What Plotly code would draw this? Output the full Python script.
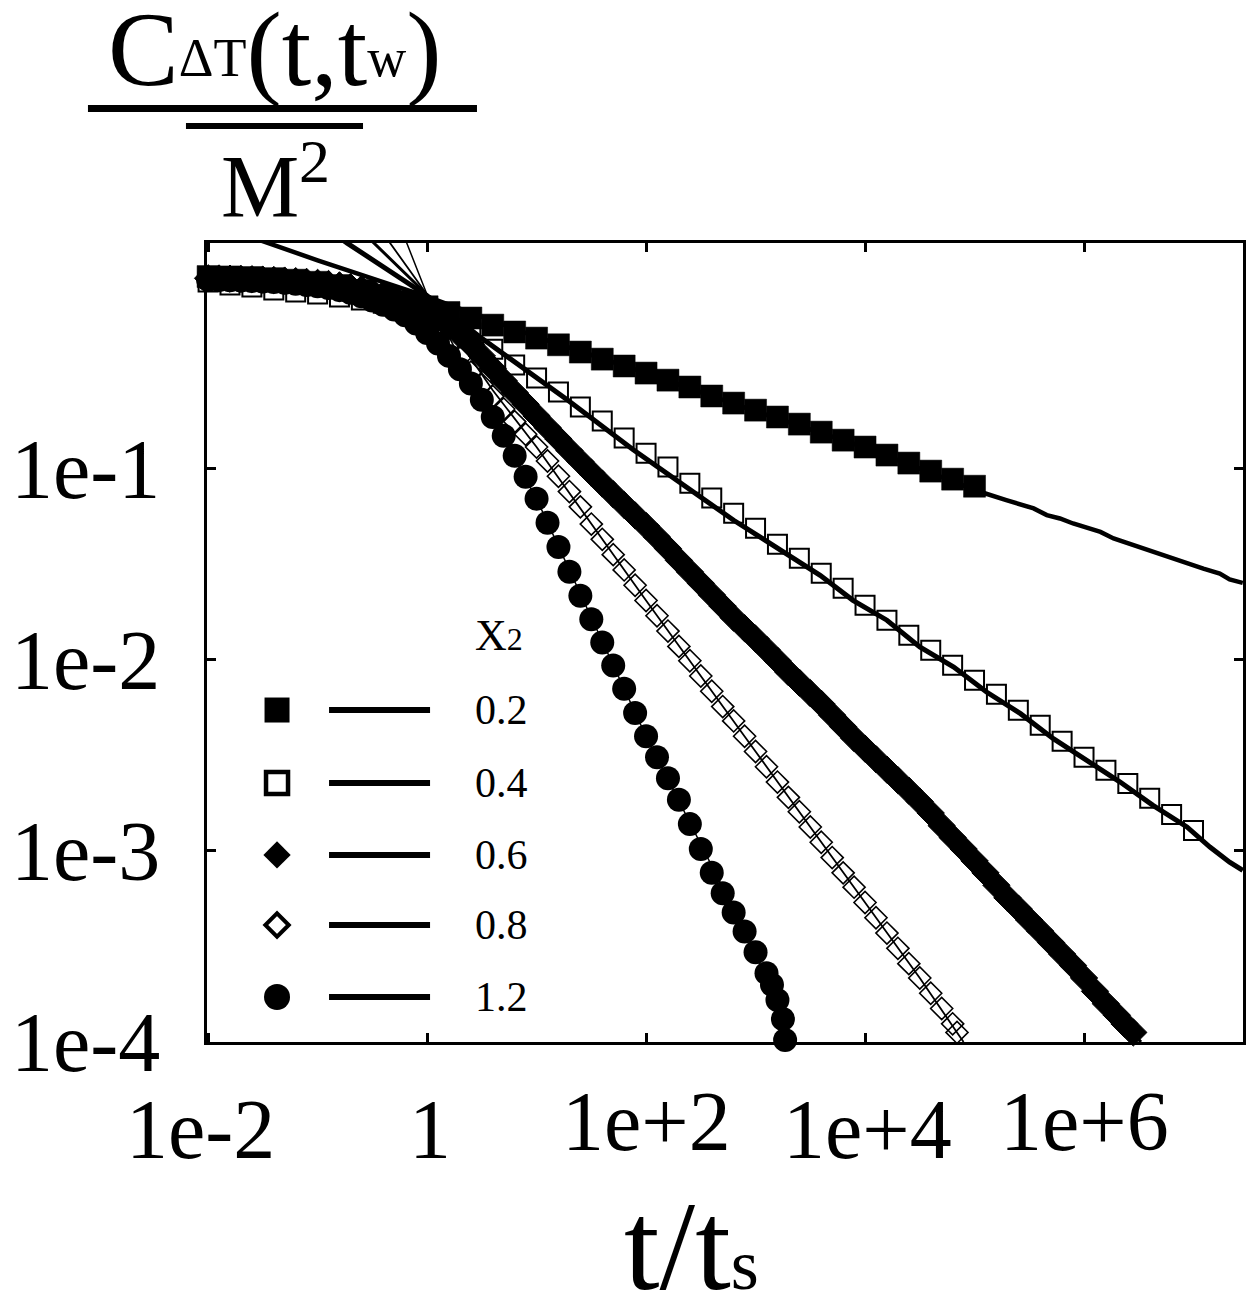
import math
import plotly.graph_objects as go

# ---------------- data (log10 values) ----------------
# sampling grids of t/ts (log10)
LOGT_STEP02 = [-2.0, -1.8, -1.6, -1.4, -1.2, -1.0, -0.8, -0.6, -0.4, -0.2,
               0.0, 0.2, 0.4, 0.6, 0.8, 1.0, 1.2, 1.4, 1.6, 1.8,
               2.0, 2.2, 2.4, 2.6, 2.8, 3.0, 3.2, 3.4, 3.6, 3.8,
               4.0, 4.2, 4.4, 4.6, 4.8, 5.0, 5.2, 5.4, 5.6, 5.8,
               6.0, 6.2, 6.4, 6.6, 6.8, 7.0]
LOGT_STEP01 = [-2.0, -1.9, -1.8, -1.7, -1.6, -1.5, -1.4, -1.3, -1.2, -1.1,
               -1.0, -0.9, -0.8, -0.7, -0.6, -0.5, -0.4, -0.3, -0.2, -0.1,
               0.0, 0.1, 0.2, 0.3, 0.4, 0.5, 0.6, 0.7, 0.8, 0.9,
               1.0, 1.1, 1.2, 1.3, 1.4, 1.5, 1.6, 1.7, 1.8, 1.9,
               2.0, 2.1, 2.2, 2.3, 2.4, 2.5, 2.6, 2.7, 2.8, 2.9,
               3.0, 3.1, 3.2, 3.3, 3.4, 3.5, 3.6, 3.7, 3.8, 3.9,
               4.0, 4.1, 4.2, 4.3, 4.4, 4.5, 4.6, 4.7, 4.8, 4.9,
               5.0, 5.1, 5.2, 5.3, 5.4, 5.5, 5.6, 5.7, 5.8, 5.9,
               6.0, 6.1, 6.2, 6.3]

# x2 = 0.2 : filled squares
LOGT_02 = LOGT_STEP02[:36]
LOGC_02 = [0.005, 0.003, 0.0, -0.006, -0.014, -0.025, -0.042, -0.068, -0.095, -0.124,
           -0.153, -0.183, -0.212, -0.249, -0.285, -0.317, -0.352, -0.390, -0.427, -0.463,
           -0.500, -0.537, -0.573, -0.620, -0.657, -0.694, -0.730, -0.767, -0.809, -0.851,
           -0.887, -0.929, -0.971, -1.013, -1.055, -1.092]

# x2 = 0.4 : open squares
LOGT_04 = LOGT_STEP02
LOGC_04 = [-0.024, -0.039, -0.050, -0.065, -0.076, -0.086, -0.102, -0.117, -0.134, -0.156,
           -0.185, -0.228, -0.290, -0.375, -0.458, -0.526, -0.599, -0.678, -0.751, -0.840,
           -0.919, -0.992, -1.076, -1.154, -1.233, -1.312, -1.395, -1.469, -1.547, -1.626,
           -1.715, -1.793, -1.872, -1.950, -2.029, -2.107, -2.181, -2.264, -2.343, -2.427,
           -2.510, -2.578, -2.647, -2.725, -2.809, -2.893]

# x2 = 0.6 : filled diamonds
LOGT_06 = LOGT_STEP01 + [6.37, 6.45]
LOGC_06 = [-0.004, -0.005, -0.006, -0.007, -0.009, -0.011, -0.013, -0.016, -0.019, -0.023,
           -0.028, -0.034, -0.041, -0.050, -0.061, -0.074, -0.089, -0.107, -0.128, -0.152,
           -0.180, -0.214, -0.255, -0.300, -0.350, -0.410, -0.475, -0.540, -0.602, -0.663,
           -0.724, -0.785, -0.845, -0.905, -0.963, -1.021, -1.078, -1.134, -1.190, -1.245,
           -1.300, -1.358, -1.418, -1.480, -1.540, -1.600, -1.660, -1.720, -1.780, -1.835,
           -1.890, -1.947, -2.005, -2.065, -2.120, -2.175, -2.230, -2.290, -2.350, -2.410,
           -2.465, -2.520, -2.575, -2.630, -2.685, -2.742, -2.802, -2.868, -2.930, -2.990,
           -3.052, -3.115, -3.180, -3.245, -3.302, -3.362, -3.420, -3.480, -3.540, -3.600,
           -3.665, -3.735, -3.800, -3.860, -3.905, -3.950]

# x2 = 0.8 : open diamonds
LOGT_08 = LOGT_STEP01[:69] + [4.84]
LOGC_08 = [-0.008, -0.009, -0.010, -0.012, -0.014, -0.016, -0.019, -0.022, -0.026, -0.031,
           -0.037, -0.044, -0.053, -0.064, -0.077, -0.093, -0.112, -0.135, -0.163, -0.198,
           -0.240, -0.290, -0.350, -0.420, -0.495, -0.560, -0.622, -0.688, -0.754, -0.820,
           -0.887, -0.960, -1.040, -1.120, -1.200, -1.290, -1.370, -1.450, -1.530, -1.610,
           -1.690, -1.770, -1.850, -1.930, -2.005, -2.085, -2.165, -2.245, -2.320, -2.400,
           -2.480, -2.560, -2.640, -2.720, -2.795, -2.875, -2.955, -3.035, -3.115, -3.190,
           -3.270, -3.350, -3.430, -3.510, -3.590, -3.665, -3.745, -3.825, -3.905, -3.950]

# x2 = 1.2 : filled circles
LOGT_12 = LOGT_STEP01[:52] + [3.15, 3.2, 3.25, 3.27]
LOGC_12 = [-0.012, -0.013, -0.014, -0.016, -0.018, -0.021, -0.024, -0.028, -0.033, -0.039,
           -0.046, -0.055, -0.066, -0.080, -0.098, -0.120, -0.143, -0.168, -0.198, -0.240,
           -0.290, -0.345, -0.410, -0.480, -0.555, -0.640, -0.730, -0.828, -0.933, -1.043,
           -1.158, -1.283, -1.410, -1.540, -1.665, -1.788, -1.910, -2.030, -2.152, -2.278,
           -2.400, -2.510, -2.620, -2.732, -2.860, -2.990, -3.115, -3.222, -3.322, -3.422,
           -3.530, -3.640, -3.700, -3.780, -3.880, -3.990]

# solid curves (log10)
LINE_LOGT_02 = [-2.0, -1.0, 0.0, 1.0, 2.0, 3.0, 4.0, 5.05, 5.29, 5.54, 5.66, 5.78, 5.90,
                6.03, 6.15, 6.27, 6.45, 6.63, 6.82, 6.97, 7.09, 7.24, 7.33, 7.45]
LINE_LOGC_02 = [0.29, 0.09, -0.10, -0.31, -0.50, -0.70, -0.89, -1.121, -1.165, -1.208, -1.243,
                -1.261, -1.287, -1.313, -1.331, -1.365, -1.401, -1.436, -1.470, -1.505,
                -1.523, -1.549, -1.580, -1.598]
LINE_LOGT_04 = [-1.0, -0.73, 0.0, 0.48, 1.28, 1.88, 2.8, 3.59, 3.89, 4.2, 4.5, 4.81, 5.11,
                5.42, 5.72, 6.03, 6.33, 6.63, 6.94, 7.15, 7.33, 7.45]
LINE_LOGC_04 = [0.29, 0.18, -0.095, -0.31, -0.64, -0.90, -1.27, -1.558, -1.689, -1.793,
                -1.933, -2.038, -2.169, -2.282, -2.413, -2.526, -2.640, -2.762, -2.875,
                -2.980, -3.059, -3.102]
LINE_LOGT_06 = [-0.7, 0.0, 0.5, 1.0, 2.0, 3.0, 4.0, 5.0, 6.0, 6.45, 6.52]
LINE_LOGC_06 = [0.30, -0.09, -0.40, -0.715, -1.30, -1.89, -2.465, -3.05, -3.66, -3.95, -4.0]
LINE_LOGT_08 = [-0.5, 0.0, 0.3, 0.6, 1.0, 2.0, 3.0, 4.0, 4.5, 4.84, 4.9]
LINE_LOGC_08 = [0.31, -0.09, -0.34, -0.59, -0.887, -1.69, -2.48, -3.27, -3.665, -3.95, -4.0]
LINE_LOGT_12 = [-0.35, 0.0, 0.3, 0.6, 1.0, 2.0, 3.0, 3.27]
LINE_LOGC_12 = [0.42, -0.09, -0.42, -0.74, -1.158, -2.40, -3.53, -3.99]

LEGEND_LABELS = ["0.2", "0.4", "0.6", "0.8", "1.2"]
X_TICK_VALUES = [1e-2, 1, 1e2, 1e4, 1e6]
X_TICK_LABELS = ["1e-2", "1", "1e+2", "1e+4", "1e+6"]
Y_TICK_VALUES = [1e-1, 1e-2, 1e-3, 1e-4]
Y_TICK_LABELS = ["1e-1", "1e-2", "1e-3", "1e-4"]

# ---------------- styles / layout constants ----------------
FONT = "Liberation Serif"
BLACK = "black"
series = [
    (LOGT_02, LOGC_02, LINE_LOGT_02, LINE_LOGC_02,
     dict(symbol="square", size=22, color=BLACK, line=dict(color=BLACK, width=0.5)), 4.5,
     dict(symbol="square", size=25, color=BLACK, line=dict(width=0))),
    (LOGT_04, LOGC_04, LINE_LOGT_04, LINE_LOGC_04,
     dict(symbol="square-open", size=19, color=BLACK, line=dict(color=BLACK, width=2)), 5.0,
     dict(symbol="square-open", size=22, color=BLACK, line=dict(color=BLACK, width=4.5))),
    (LOGT_06, LOGC_06, LINE_LOGT_06, LINE_LOGC_06,
     dict(symbol="diamond", size=21, color=BLACK, line=dict(color=BLACK, width=1)), 3.0,
     dict(symbol="diamond", size=21, color=BLACK, line=dict(width=0))),
    (LOGT_08, LOGC_08, LINE_LOGT_08, LINE_LOGC_08,
     dict(symbol="diamond-open", size=17, color=BLACK, line=dict(color=BLACK, width=1.6)), 1.8,
     dict(symbol="diamond-open", size=18, color=BLACK, line=dict(color=BLACK, width=4))),
    (LOGT_12, LOGC_12, LINE_LOGT_12, LINE_LOGC_12,
     dict(symbol="circle", size=24, color=BLACK, line=dict(color=BLACK, width=0)), 1.5,
     dict(symbol="circle", size=26, color=BLACK, line=dict(width=0))),
]


def p10(vals):
    return [10 ** v for v in vals]


fig = go.Figure()

# solid curves
for lt, lc, llt, llc, mk, lw, lmk in series:
    fig.add_trace(go.Scatter(x=p10(llt), y=p10(llc), mode="lines",
                             line=dict(color=BLACK, width=lw), cliponaxis=True,
                             hoverinfo="skip"))
# data markers
for lt, lc, llt, llc, mk, lw, lmk in series:
    fig.add_trace(go.Scatter(x=p10(lt), y=p10(lc), mode="markers",
                             marker=mk, cliponaxis=False, hoverinfo="skip"))

# in-plot legend (drawn on an overlay axis spanning the plot area 0..1)
LEG_ROW_Y = [0.4155, 0.3242, 0.2341, 0.1464, 0.0563]
LEG_MARK_X = 0.0676
LEG_LINE_X = (0.1178, 0.2153)
LEG_TEXT_X = 0.2568
for s, ry in zip(series, LEG_ROW_Y):
    fig.add_trace(go.Scatter(x=[LEG_MARK_X], y=[ry], mode="markers", marker=s[6],
                             xaxis="x2", yaxis="y2", cliponaxis=False, hoverinfo="skip"))
    fig.add_trace(go.Scatter(x=list(LEG_LINE_X), y=[ry, ry], mode="lines",
                             line=dict(color=BLACK, width=6),
                             xaxis="x2", yaxis="y2", cliponaxis=False, hoverinfo="skip"))

annotations = []
for ry, lab in zip(LEG_ROW_Y, LEGEND_LABELS):
    annotations.append(dict(x=LEG_TEXT_X, y=ry, xref="paper", yref="paper", text=lab,
                            showarrow=False, xanchor="left", yanchor="middle",
                            font=dict(family=FONT, size=42, color=BLACK)))
annotations.append(dict(x=LEG_TEXT_X, y=0.509, xref="paper", yref="paper",
                        text="X<span style='font-size:32px'>2</span>",
                        showarrow=False, xanchor="left", yanchor="middle",
                        font=dict(family=FONT, size=44, color=BLACK)))

# x tick labels (staggered as in the original)
X_LABEL_SHIFT = [(-8, 0), (3, 0), (0, 8), (2, 0), (0, 8)]
for v, t, (dx, dy) in zip(X_TICK_VALUES, X_TICK_LABELS, X_LABEL_SHIFT):
    annotations.append(dict(x=math.log10(v), y=-0.1096, xref="x", yref="paper", text=t,
                            showarrow=False, xanchor="center", yanchor="middle",
                            xshift=dx, yshift=dy,
                            font=dict(family=FONT, size=84, color=BLACK)))

# axis titles
annotations.append(dict(x=0.468, y=-0.255, xref="paper", yref="paper",
                        text="t/t<span style='font-size:72px'>s</span>",
                        showarrow=False, xanchor="center", yanchor="middle",
                        font=dict(family=FONT, size=128, color=BLACK)))
SUB = "font-size:54px;baseline-shift:9px"
annotations.append(dict(x=0.0656, y=1.2416, xref="paper", yref="paper",
                        text=f"C<span style='{SUB}'>ΔT</span>(t,t<span style='{SUB}'>w</span>)",
                        showarrow=False, xanchor="center", yanchor="middle",
                        font=dict(family=FONT, size=106, color=BLACK)))
annotations.append(dict(x=0.0512, y=1.0710, xref="paper", yref="paper", text="M",
                        showarrow=False, xanchor="center", yanchor="middle",
                        font=dict(family=FONT, size=88, color=BLACK)))
annotations.append(dict(x=0.1042, y=1.1026, xref="paper", yref="paper", text="2",
                        showarrow=False, xanchor="center", yanchor="middle",
                        font=dict(family=FONT, size=62, color=BLACK)))

shapes = [
    dict(type="line", xref="paper", yref="paper", x0=-0.1149, x1=0.2606, y0=1.1683, y1=1.1683,
         line=dict(color=BLACK, width=7)),
    dict(type="line", xref="paper", yref="paper", x0=-0.0203, x1=0.1506, y0=1.1464, y1=1.1464,
         line=dict(color=BLACK, width=6)),
]

axis_common = dict(ticks="inside", ticklen=9, tickwidth=3, tickcolor=BLACK,
                   showline=True, linewidth=3, linecolor=BLACK, mirror="ticks",
                   showgrid=False, zeroline=False, automargin=False)

fig.update_layout(
    width=1251, height=1298,
    margin=dict(l=207, r=8, t=243, b=256, autoexpand=False),
    paper_bgcolor="white", plot_bgcolor="white",
    showlegend=False,
    font=dict(family=FONT, color=BLACK),
    xaxis=dict(type="log", range=[-2.01, 7.452], tickvals=X_TICK_VALUES,
               showticklabels=False, **axis_common),
    yaxis=dict(type="log", range=[-4.0, 0.1806], tickvals=Y_TICK_VALUES,
               ticktext=Y_TICK_LABELS, tickfont=dict(family=FONT, size=84, color=BLACK),
               ticklabelstandoff=27, **axis_common),
    xaxis2=dict(overlaying="x", range=[0, 1], visible=False, anchor="y2"),
    yaxis2=dict(overlaying="y", range=[0, 1], visible=False, anchor="x2"),
    annotations=annotations,
    shapes=shapes,
)

fig.write_html("out.html")
